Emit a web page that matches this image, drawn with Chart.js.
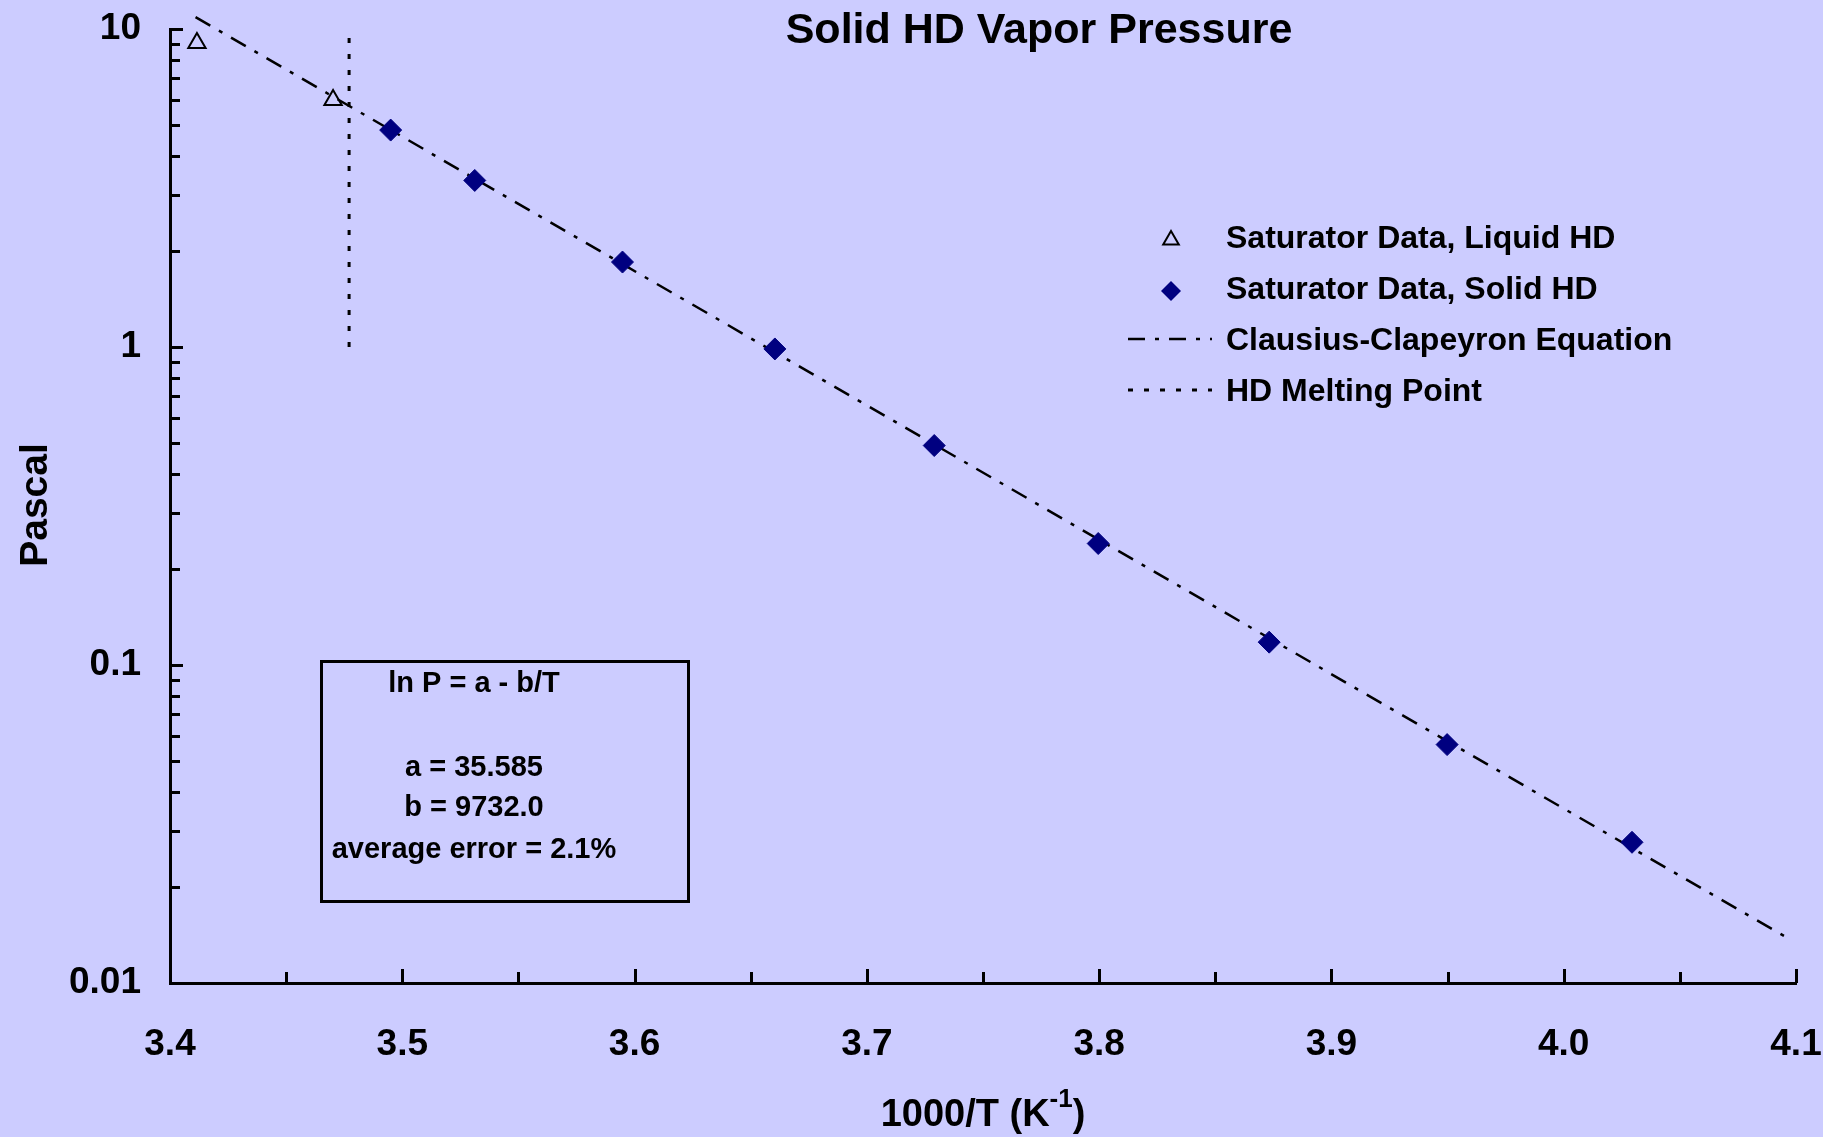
<!DOCTYPE html>
<html>
<head>
<meta charset="utf-8">
<title>Solid HD Vapor Pressure</title>
<script src="https://cdn.jsdelivr.net/npm/chart.js@4.4.1/dist/chart.umd.min.js"></script>
<style>
  html, body { margin: 0; padding: 0; background: #ccccff; }
  #wrap { width: 1823px; height: 1137px; }
</style>
</head>
<body>
<div id="wrap"><canvas id="chart" width="1823" height="1137"></canvas></div>
<script>
// ---- data ----
const liquidX = [3.4116, 3.4702];
const liquidP = [9.04, 5.98];

const solidX = [3.4950, 3.5312, 3.5948, 3.6604, 3.7290, 3.7996, 3.8732, 3.9498, 4.0294];
const solidP = [4.81, 3.34, 1.85, 0.986, 0.49, 0.241, 0.118, 0.0562, 0.0277];

// Clausius-Clapeyron fit line, end points
const fitX = [3.411, 4.096];
const fitP = [10.9, 0.0139];

// melting point marker
const meltX = [3.4771, 3.4771];
const meltP = [1, 10];

const xTicks = [3.4, 3.45, 3.5, 3.55, 3.6, 3.65, 3.7, 3.75, 3.8, 3.85, 3.9, 3.95, 4.0, 4.05, 4.1];
const xTickLabels = ['3.4', '3.5', '3.6', '3.7', '3.8', '3.9', '4.0', '4.1'];
const yTicks = [0.01, 0.02, 0.03, 0.04, 0.05, 0.06, 0.07, 0.08, 0.09,
                0.1, 0.2, 0.3, 0.4, 0.5, 0.6, 0.7, 0.8, 0.9,
                1, 2, 3, 4, 5, 6, 7, 8, 9, 10];
const yMajor = [0.01, 0.1, 1, 10];
const yTickLabels = ['0.01', '0.1', '1', '10'];

const seriesNames = ['Saturator Data, Liquid HD', 'Saturator Data, Solid HD', 'Clausius-Clapeyron Equation', 'HD Melting Point'];
const boxLines = ['ln P = a - b/T', '', 'a = 35.585', 'b = 9732.0', 'average error = 2.1%'];

const FONT = '"Liberation Sans", Arial, sans-serif';
const dashDot = [17, 10, 4, 10];
const dotted = [5, 11];

const pts = (xs, ys) => xs.map((x, i) => ({ x, y: ys[i] }));

// title, axis titles, inward tick marks, legend, text box
const decor = {
  id: 'decor',
  afterDraw(chart) {
    const { ctx, chartArea: a, scales: { x, y } } = chart;
    ctx.save();
    ctx.strokeStyle = '#000';
    ctx.fillStyle = '#000';
    ctx.lineWidth = 3;
    ctx.setLineDash([]);

    x.ticks.forEach((t, i) => {
      const px = Math.round(x.getPixelForValue(t.value)) + 0.5;
      const len = i % 2 === 0 ? 14 : 11;
      ctx.beginPath(); ctx.moveTo(px, a.bottom); ctx.lineTo(px, a.bottom - len); ctx.stroke();
    });
    y.ticks.forEach(t => {
      const py = Math.round(y.getPixelForValue(t.value)) + 0.5;
      const len = yMajor.includes(t.value) ? 13 : 10;
      ctx.beginPath(); ctx.moveTo(a.left, py); ctx.lineTo(a.left + len, py); ctx.stroke();
    });

    // title
    ctx.font = 'bold 43px ' + FONT;
    ctx.textAlign = 'center';
    ctx.textBaseline = 'alphabetic';
    ctx.fillText('Solid HD Vapor Pressure', 1039, 43);

    // y axis title
    ctx.save();
    ctx.translate(47, 505);
    ctx.rotate(-Math.PI / 2);
    ctx.font = 'bold 39px ' + FONT;
    ctx.fillText('Pascal', 0, 0);
    ctx.restore();

    // x axis title with superscript
    const main = '1000/T (K', sup = '-1', tail = ')';
    ctx.font = 'bold 38px ' + FONT;
    const wMain = ctx.measureText(main).width, wTail = ctx.measureText(tail).width;
    ctx.font = 'bold 26px ' + FONT;
    const wSup = ctx.measureText(sup).width;
    let sx = (a.left + a.right) / 2 - (wMain + wSup + wTail) / 2;
    ctx.textAlign = 'left';
    ctx.font = 'bold 38px ' + FONT;
    ctx.fillText(main, sx, 1126);
    ctx.font = 'bold 26px ' + FONT;
    ctx.fillText(sup, sx + wMain, 1107);
    ctx.font = 'bold 38px ' + FONT;
    ctx.fillText(tail, sx + wMain + wSup, 1126);

    // legend
    const lx = 1171, tx = 1226;
    chart.data.datasets.forEach((ds, i) => {
      const base = 248 + i * 51;
      const my = base - 8;
      ctx.font = 'bold 32px ' + FONT;
      ctx.fillStyle = '#000';
      ctx.textAlign = 'left';
      ctx.fillText(ds.label, tx, base);
      ctx.setLineDash([]);
      if (ds.pointStyle === 'triangle') {
        const r = 9;
        ctx.lineWidth = 2;
        ctx.strokeStyle = ds.borderColor;
        ctx.beginPath();
        ctx.moveTo(lx, my - r);
        ctx.lineTo(lx + r * 0.866, my + r * 0.5);
        ctx.lineTo(lx - r * 0.866, my + r * 0.5);
        ctx.closePath();
        ctx.stroke();
      } else if (ds.pointStyle === 'rectRot') {
        const r = 10;
        ctx.fillStyle = ds.backgroundColor;
        ctx.beginPath();
        ctx.moveTo(lx - r, my); ctx.lineTo(lx, my - r); ctx.lineTo(lx + r, my); ctx.lineTo(lx, my + r);
        ctx.closePath();
        ctx.fill();
      } else {
        ctx.strokeStyle = ds.borderColor;
        ctx.lineWidth = ds.borderWidth;
        ctx.setLineDash(ds.borderDash);
        ctx.beginPath(); ctx.moveTo(1128, base - 11); ctx.lineTo(1212, base - 11); ctx.stroke();
      }
    });

    // equation box
    ctx.setLineDash([]);
    ctx.lineWidth = 3;
    ctx.strokeStyle = '#000';
    ctx.strokeRect(321.5, 661.5, 367, 240);
    ctx.fillStyle = '#000';
    ctx.textAlign = 'center';
    ctx.font = 'bold 29px ' + FONT;
    const bases = [692, 734, 776, 816, 858];
    boxLines.forEach((s, i) => { if (s) ctx.fillText(s, 474, bases[i]); });

    ctx.restore();
  }
};

new Chart(document.getElementById('chart'), {
  type: 'scatter',
  data: {
    datasets: [
      {
        label: seriesNames[0],
        data: pts(liquidX, liquidP),
        pointStyle: 'triangle',
        pointRadius: 10,
        borderColor: '#000000',
        backgroundColor: 'rgba(0,0,0,0)',
        borderWidth: 2,
        order: 0
      },
      {
        label: seriesNames[1],
        data: pts(solidX, solidP),
        pointStyle: 'rectRot',
        pointRadius: 11,
        borderColor: '#000080',
        backgroundColor: '#000080',
        borderWidth: 1,
        order: 0
      },
      {
        label: seriesNames[2],
        data: pts(fitX, fitP),
        showLine: true,
        pointRadius: 0,
        borderColor: '#000000',
        borderWidth: 2.5,
        borderDash: dashDot,
        clip: false,
        order: 1
      },
      {
        label: seriesNames[3],
        data: pts(meltX, meltP),
        showLine: true,
        pointRadius: 0,
        borderColor: '#000000',
        borderWidth: 3,
        borderDash: dotted,
        order: 1
      }
    ]
  },
  options: {
    responsive: false,
    animation: false,
    events: [],
    layout: { padding: { left: 0, top: 29, right: 27, bottom: 0 } },
    plugins: { legend: { display: false }, tooltip: { enabled: false }, title: { display: false } },
    scales: {
      x: {
        type: 'linear',
        min: 3.4,
        max: 4.1,
        afterBuildTicks: s => { s.ticks = xTicks.map(v => ({ value: v })); },
        afterFit: s => { s.height = 154; s.paddingLeft = 0; s.paddingRight = 0; },
        grid: { display: true, drawOnChartArea: false, drawTicks: false },
        border: { display: true, color: '#000', width: 3 },
        ticks: {
          autoSkip: false,
          maxRotation: 0,
          padding: 40,
          color: '#000',
          font: { family: FONT, size: 37, weight: 'bold' },
          callback: (v, i) => (i % 2 === 0 ? xTickLabels[i / 2] : '')
        }
      },
      y: {
        type: 'logarithmic',
        min: 0.01,
        max: 10,
        afterBuildTicks: s => { s.ticks = yTicks.map(v => ({ value: v })); },
        afterFit: s => { s.width = 170; s.paddingTop = 0; s.paddingBottom = 0; },
        grid: { display: true, drawOnChartArea: false, drawTicks: false },
        border: { display: true, color: '#000', width: 3 },
        ticks: {
          autoSkip: false,
          padding: 29,
          color: '#000',
          font: { family: FONT, size: 37, weight: 'bold' },
          callback: v => {
            const k = yMajor.indexOf(v);
            return k >= 0 ? yTickLabels[k] : '';
          }
        }
      }
    }
  },
  plugins: [decor]
});
</script>
</body>
</html>
